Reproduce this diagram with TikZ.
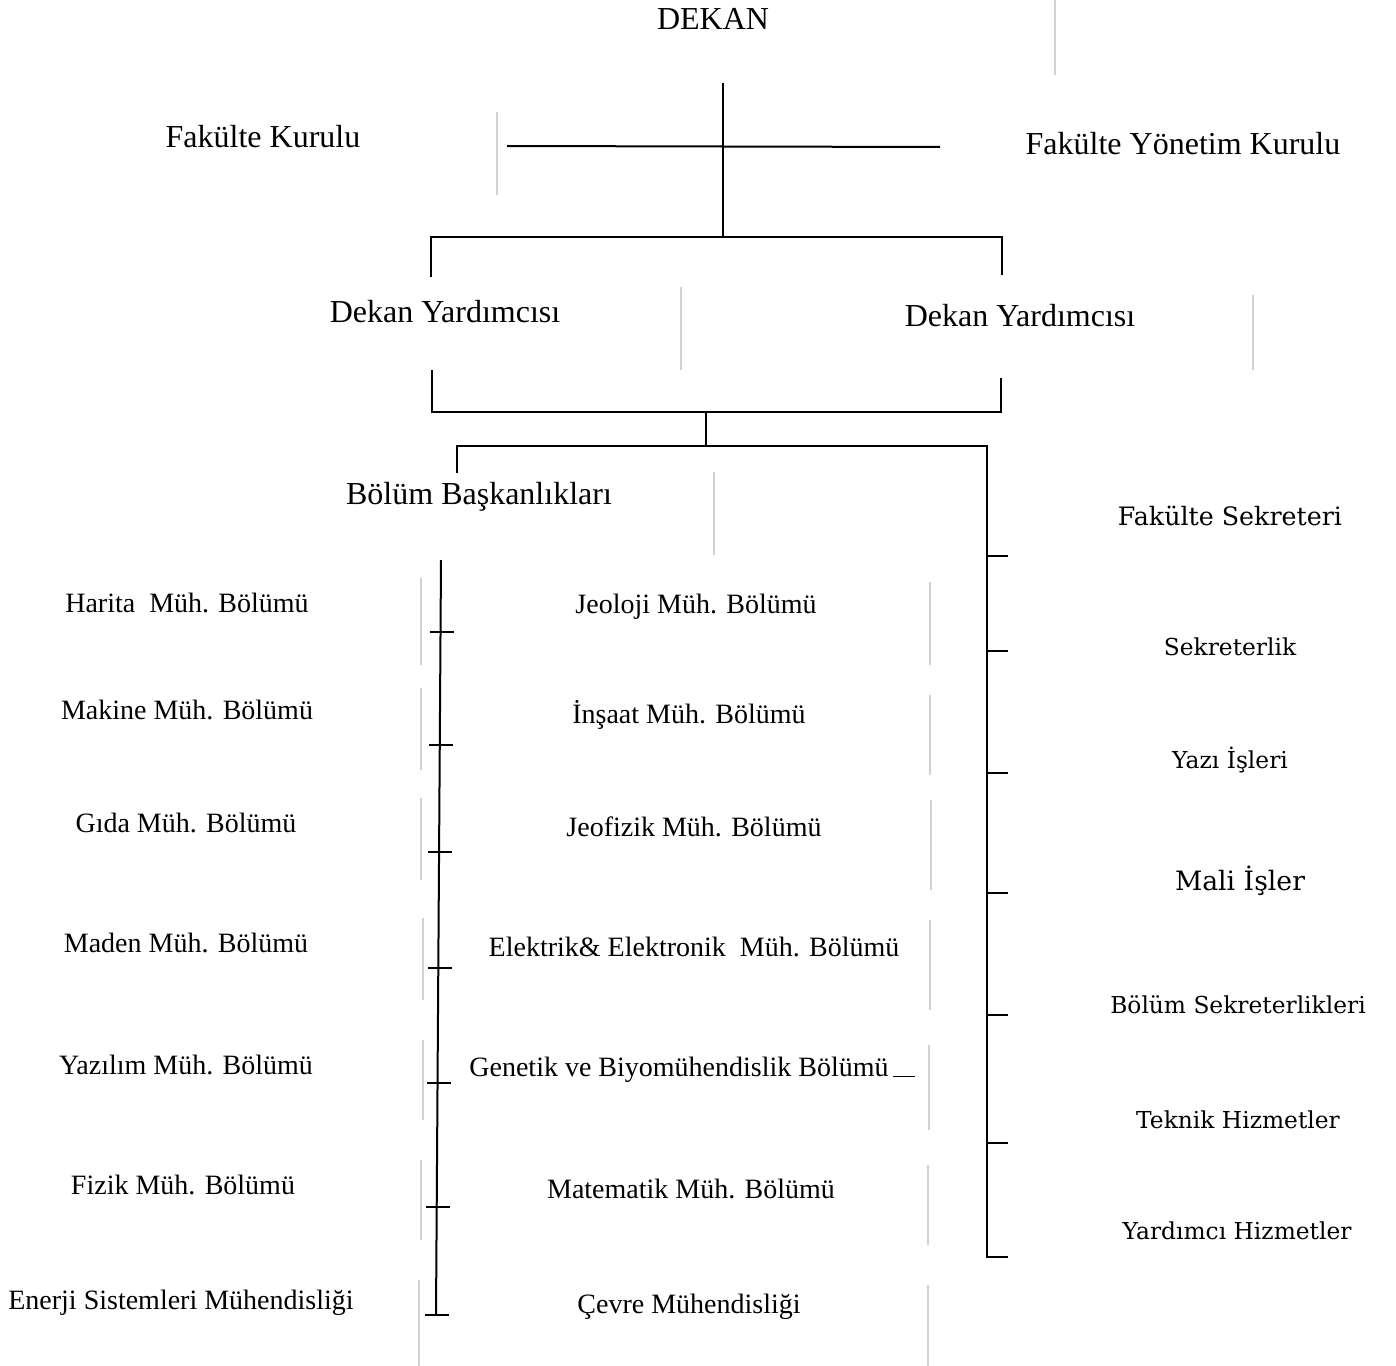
\documentclass[tikz,border=0pt]{standalone}
\usepackage{fontspec}
\setmainfont{Liberation Serif}
\newfontfamily\wideserif{DejaVu Serif}
\tikzset{every picture/.style={line width=0.75pt}}
\tikzset{
  bracket/.style={line width=1.5pt},
  ghost/.style={color={rgb, 255:red, 210; green, 210; blue, 210 }, line width=1pt},
  headtxt/.style={inner sep=0.75pt, font=\fontsize{24}{28}\selectfont},
  unittxt/.style={inner sep=0.75pt, font=\fontsize{21}{25}\selectfont},
  officetxt/.style={inner sep=0.75pt, font=\wideserif\fontsize{17.5}{21}\selectfont},
}

\begin{document}
\begin{tikzpicture}[x=0.75pt,y=0.75pt,yscale=-1,xscale=1]
\useasboundingbox (0,0) rectangle (1396,1366);

%Ghost lines of the scan
\foreach \x/\ya/\yb in {1055/0/75, 497/112/195, 681/287/370, 1253/295/370, 714/472/555,
  421/578/665, 421/688/770, 421/798/880, 423/918/1000, 423/1040/1120, 421/1160/1240, 419/1280/1366,
  930/582/665, 930/695/775, 931/800/890, 930/920/1010, 929/1045/1130, 928/1165/1245, 928/1285/1366}
  \draw [ghost] (\x,\ya) -- (\x,\yb);

% Text Node
\draw (713,19) node (dekan) [headtxt] {DEKAN};
% Text Node
\draw (263,137) node (fkurul) [headtxt] {Fakülte Kurulu};
% Text Node
\draw (1183,144) node (fyonetim) [headtxt] {Fakülte Yönetim Kurulu};
% Text Node
\draw (445,312) node (yrd1) [headtxt] {Dekan Yardımcısı};
% Text Node
\draw (1020,316) node (yrd2) [headtxt] {Dekan Yardımcısı};
% Text Node
\draw (479,497) node (baskan) [headtxt] {Bölüm Başkanlıkları};

%Straight Lines
\coordinate (dtop) at (723,83);
\coordinate (dbot) at (723,237);
\coordinate (kl) at (507,146);
\coordinate (kr) at (940,147);
\draw [bracket] (dtop) -- (dbot);
\draw [bracket] (kl) -- (kr);
%Bracket to the two deputies
\coordinate (yl) at (431,237);
\coordinate (yr) at (1002,237);
\coordinate (ylb) at (431,277);
\coordinate (yrb) at (1002,275);
\draw [bracket] (ylb) -- (yl) -- (yr) -- (yrb);
%Bracket under the two deputies
\coordinate (ul) at (432,370);
\coordinate (ur) at (1001,378);
\coordinate (ulb) at (432,412);
\coordinate (urb) at (1001,412);
\coordinate (umid) at (706,412);
\coordinate (bmid) at (706,446);
\draw [bracket] (ul) -- (ulb) -- (urb) -- (ur);
\draw [bracket] (umid) -- (bmid);
%Split to departments and offices
\coordinate (bl) at (457,446);
\coordinate (bld) at (457,473);
\coordinate (br) at (987,446);
\coordinate (brb) at (987,1257);
\draw [bracket] (bld) -- (bl) -- (br) -- (brb) -- ++(21,0);
\foreach \y [count=\i] in {556,651,773,893,1015,1143}{
  \coordinate (rt\i) at (987,\y);
  \draw [bracket] (rt\i) -- ++(21,0);
}
%Department bus
\coordinate (sbtop) at (441,560);
\coordinate (sbbot) at (436,1315);
\draw [bracket] (sbtop) -- (sbbot);
\foreach \x/\y [count=\i] in {441/632,440/745,439/852,439/968,438/1083,437/1207,436/1315}{
  \coordinate (lt\i) at (\x,\y);
  \draw [bracket] ([xshift=-8]lt\i) -- ([xshift=10]lt\i);
}

% Text Node
\draw (187,603) node (harita) [unittxt] {Harita\ \ Müh. Bölümü};
% Text Node
\draw (187,710) node (makine) [unittxt] {Makine Müh. Bölümü};
% Text Node
\draw (186,823) node (gida) [unittxt] {Gıda Müh. Bölümü};
% Text Node
\draw (186,943) node (maden) [unittxt] {Maden Müh. Bölümü};
% Text Node
\draw (186,1065) node (yazilim) [unittxt] {Yazılım Müh. Bölümü};
% Text Node
\draw (183,1185) node (fizik) [unittxt] {Fizik Müh. Bölümü};
% Text Node
\draw (181,1303) node (enerji) [unittxt] {Enerji Sistemleri Mühendisliği};

% Text Node
\draw (696,607) node (jeoloji) [unittxt] {Jeoloji Müh. Bölümü};
% Text Node
\draw (689,715) node (insaat) [unittxt] {İnşaat Müh. Bölümü};
% Text Node
\draw (694,827) node (jeofizik) [unittxt] {Jeofizik Müh. Bölümü};
% Text Node
\draw (694,947) node (elektrik) [unittxt] {Elektrik\& Elektronik\ \ Müh. Bölümü};
% Text Node
\draw (679,1070) node (genetik) [unittxt] {Genetik ve Biyomühendislik Bölümü};
\draw [line width=1pt] ([xshift=2]genetik.base east) -- ++(22,0);
% Text Node
\draw (691,1189) node (matematik) [unittxt] {Matematik Müh. Bölümü};
% Text Node
\draw (689,1307) node (cevre) [unittxt] {Çevre Mühendisliği};

% Text Node
\draw (1230,516) node (fsekreter) [officetxt, font=\wideserif\fontsize{19}{23}\selectfont] {Fakülte Sekreteri};
% Text Node
\draw (1230,647) node (sekreterlik) [officetxt] {Sekreterlik};
% Text Node
\draw (1230,760) node (yazi) [officetxt] {Yazı İşleri};
% Text Node
\draw (1240,881) node (mali) [officetxt, font=\wideserif\fontsize{20}{24}\selectfont] {Mali İşler};
% Text Node
\draw (1238,1005) node (bolumsek) [officetxt] {Bölüm Sekreterlikleri};
% Text Node
\draw (1238,1120) node (teknik) [officetxt] {Teknik Hizmetler};
% Text Node
\draw (1237,1231) node (yardimci) [officetxt] {Yardımcı Hizmetler};

\end{tikzpicture}
\end{document}
